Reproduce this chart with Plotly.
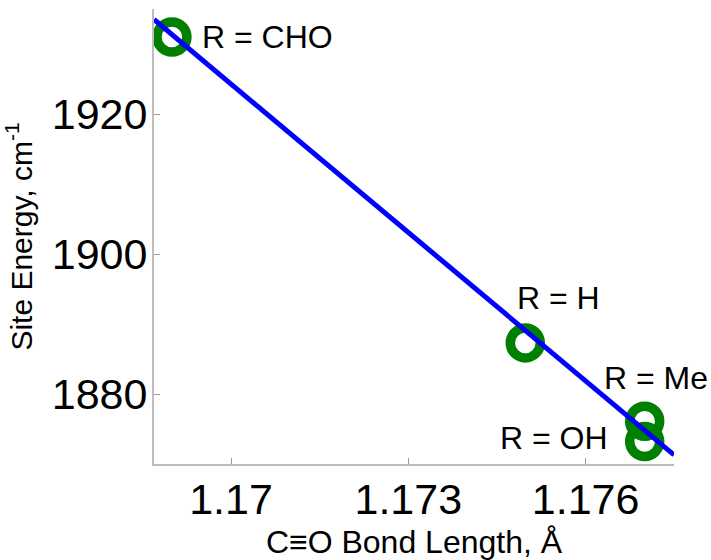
import plotly.graph_objects as go

# C≡O bond length (Å) vs. site energy (cm^-1) for each substituent R
bond_length = [1.1690, 1.17498, 1.1770, 1.1770]
site_energy = [1931.0, 1887.3, 1876.1, 1873.2]
substituent = ["R = CHO", "R = H", "R = Me", "R = OH"]

# Linear fit across the plotted range
fit_x = [1.168697, 1.177496]
fit_y = [1933.5, 1871.3]

x_ticks = [1.17, 1.173, 1.176]
x_tick_text = ["1.17", "1.173", "1.176"]
y_ticks = [1880, 1900, 1920]
y_tick_text = ["1880", "1900", "1920"]

FONT = "Liberation Sans, Arial, sans-serif"

fig = go.Figure()
fig.add_trace(go.Scatter(
    x=bond_length, y=site_energy, mode="markers",
    marker=dict(symbol="circle-open", size=30, color="#008000",
                line=dict(width=9.5, color="#008000")),
    hoverinfo="skip", showlegend=False,
))
fig.add_trace(go.Scatter(
    x=fit_x, y=fit_y, mode="lines",
    line=dict(color="#0000ff", width=5),
    hoverinfo="skip", showlegend=False,
))

# label placement (pixel offsets from each marker)
label_pos = {
    "R = CHO": dict(xanchor="left", yanchor="middle", xshift=28, yshift=0),
    "R = H": dict(xanchor="center", yanchor="middle", xshift=33, yshift=45),
    "R = Me": dict(xanchor="center", yanchor="middle", xshift=11, yshift=43),
    "R = OH": dict(xanchor="right", yanchor="middle", xshift=-35, yshift=4),
}
for bx, se, name in zip(bond_length, site_energy, substituent):
    fig.add_annotation(x=bx, y=se, xref="x", yref="y", text=name,
                       showarrow=False, font=dict(family=FONT, size=32, color="black"),
                       **label_pos[name])

axis_common = dict(
    showline=True, linecolor="#bdbdbd", linewidth=2, mirror=False,
    showgrid=False, zeroline=False, automargin=False,
    ticks="inside", ticklen=6, tickcolor="#9a9a9a", tickwidth=1,
    tickfont=dict(family=FONT, size=43, color="black"),
)

fig.update_layout(
    width=711, height=560,
    margin=dict(l=154, r=37, t=9, b=96),
    plot_bgcolor="white", paper_bgcolor="white",
    xaxis=dict(range=[1.168697, 1.177496], tickvals=x_ticks, ticktext=x_tick_text,
               ticklabelstandoff=-4,
               title=dict(text="C≡O Bond Length, Å", standoff=12,
                          font=dict(family=FONT, size=32, color="black")),
               **axis_common),
    yaxis=dict(range=[1870, 1935], tickvals=y_ticks, ticktext=y_tick_text,
               ticklabelstandoff=-4,
               title=dict(text="Site Energy, cm<sup>-1</sup>", standoff=12,
                          font=dict(family=FONT, size=30, color="black")),
               **axis_common),
)

fig.write_html("out.html")
